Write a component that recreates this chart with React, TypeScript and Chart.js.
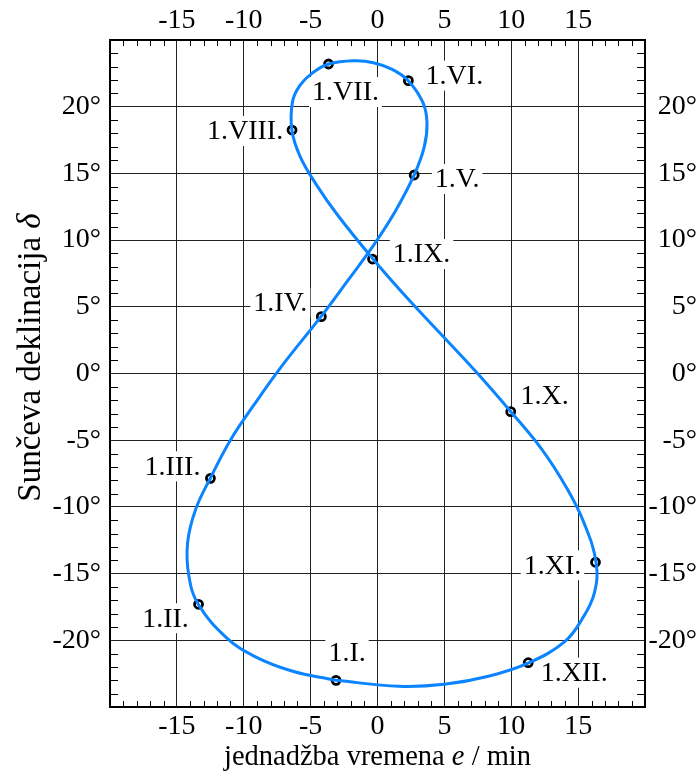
import { useEffect, useRef } from 'react';
import { Chart, registerables } from 'chart.js';

Chart.register(...registerables);

// Analemma curve (equation of time e in min, declination δ in degrees)
const curveE = [
  -3.1, -6.4, -9.2, -11.3, -13.4, -14.1, -14.2, -13.6, -12.5, -11.0, -9.2, -7.2,
  -4.2, -2.2, -0.3, 1.3, 2.75, 3.5, 3.7, 3.4, 2.3, 1.1, -0.3, -1.7,
  -3.65, -4.9, -5.8, -6.35, -6.4, -5.8, -4.6, -3.0, -0.35, 2.0, 4.7, 7.3,
  10.0, 12.3, 14.1, 15.4, 16.35, 16.2, 15.3, 14.0, 11.3, 8.3, 5.0, 1.6, -3.1,
];
const curveDelta = [
  -23.0, -22.3, -21.2, -19.8, -17.3, -15.2, -12.7, -10.2, -7.85, -5.0, -2.3, 0.5,
  4.3, 7.0, 9.6, 12.1, 14.9, 17.0, 18.8, 20.3, 21.95, 22.8, 23.3, 23.45,
  23.2, 22.5, 21.6, 20.4, 18.25, 16.3, 14.2, 11.9, 8.6, 5.9, 3.0, 0.2,
  -2.9, -5.7, -8.5, -11.1, -14.2, -16.5, -18.4, -20.1, -21.7, -22.7, -23.3, -23.45, -23.0,
];

// First-of-month markers
const monthLabels = ['1.I.', '1.II.', '1.III.', '1.IV.', '1.V.', '1.VI.', '1.VII.', '1.VIII.', '1.IX.', '1.X.', '1.XI.', '1.XII.'];
const monthE = [-3.1, -13.38, -12.49, -4.2, 2.74, 2.31, -3.66, -6.39, -0.37, 9.96, 16.3, 11.27];
const monthDelta = [-23.0, -17.3, -7.86, 4.26, 14.88, 21.95, 23.2, 18.25, 8.58, -2.86, -14.15, -21.68];

// Tick values
const xTickValues = [-15, -10, -5, 0, 5, 10, 15];
const yTickValues = [-20, -15, -10, -5, 0, 5, 10, 15, 20];

// Label placement relative to marker (pixels) – layout only
const labelOffsets: [number, number][] = [
  [11, -28], [-33, 14], [-38, -12], [-41, -14], [43, 4], [46, -5],
  [17, 28], [-47, 1], [49, -5], [34, -16], [-43, 3], [46, 10],
];

const SERIF = "'Liberation Serif', 'Times New Roman', serif";

const monthLabelPlugin = {
  id: 'monthLabels',
  beforeDatasetsDraw(chart: any) {
    const meta = chart.getDatasetMeta(1);
    const ctx = chart.ctx;
    ctx.save();
    ctx.font = `28px ${SERIF}`;
    ctx.textAlign = 'center';
    ctx.textBaseline = 'middle';
    meta.data.forEach((pt: any, i: number) => {
      const [dx, dy] = labelOffsets[i];
      const cx = pt.x + dx;
      const cy = pt.y + dy;
      const w = ctx.measureText(monthLabels[i]).width;
      ctx.fillStyle = '#ffffff';
      ctx.fillRect(cx - w / 2 - 3, cy - 15, w + 6, 30);
      ctx.fillStyle = '#000000';
      ctx.fillText(monthLabels[i], cx, cy + 1);
    });
    ctx.restore();
  },
};

const frameDecorPlugin = {
  id: 'frameDecor',
  afterDraw(chart: any) {
    const ctx = chart.ctx;
    const { left, right, top, bottom } = chart.chartArea;
    const xs = chart.scales.x;
    const ys = chart.scales.y;
    ctx.save();
    ctx.strokeStyle = '#000';
    ctx.lineWidth = 1;
    ctx.beginPath();
    for (let v = -19; v <= 19; v++) {
      if (v % 5 === 0) continue;
      const px = Math.round(xs.getPixelForValue(v)) + 0.5;
      ctx.moveTo(px, top);
      ctx.lineTo(px, top + 6);
      ctx.moveTo(px, bottom);
      ctx.lineTo(px, bottom - 6);
    }
    for (let v = -24; v <= 24; v++) {
      if (v % 5 === 0) continue;
      const py = Math.round(ys.getPixelForValue(v)) + 0.5;
      ctx.moveTo(left, py);
      ctx.lineTo(left + 8, py);
      ctx.moveTo(right, py);
      ctx.lineTo(right - 8, py);
    }
    ctx.stroke();

    // axis titles with italic symbols
    ctx.fillStyle = '#000';
    ctx.textBaseline = 'alphabetic';
    const drawMixed = (parts: [string, boolean][], size: number) => {
      let total = 0;
      parts.forEach(([t, it]) => {
        ctx.font = `${it ? 'italic ' : ''}${size}px ${SERIF}`;
        total += ctx.measureText(t).width;
      });
      let x = -total / 2;
      ctx.textAlign = 'left';
      parts.forEach(([t, it]) => {
        ctx.font = `${it ? 'italic ' : ''}${size}px ${SERIF}`;
        ctx.fillText(t, x, 0);
        x += ctx.measureText(t).width;
      });
    };
    ctx.save();
    ctx.translate((left + right) / 2, bottom + 58);
    drawMixed([['jednadžba vremena ', false], ['e', true], [' / min', false]], 28.5);
    ctx.restore();
    ctx.save();
    ctx.translate(left - 70, (top + bottom) / 2 - 16);
    ctx.rotate(-Math.PI / 2);
    drawMixed([['Sunčeva deklinacija ', false], ['δ', true]], 33);
    ctx.restore();
    ctx.restore();
  },
};

export default function App() {
  const canvasRef = useRef<HTMLCanvasElement | null>(null);

  useEffect(() => {
    document.body.style.margin = '0';
    const canvas = canvasRef.current;
    if (!canvas) return;
    const font = { family: SERIF, size: 28 };
    const xTicksFn = (s: any) => {
      s.ticks = xTickValues.map((v) => ({ value: v }));
    };
    const yTicksFn = (s: any) => {
      s.ticks = yTickValues.map((v) => ({ value: v }));
    };
    const chart = new Chart(canvas, {
      type: 'scatter',
      data: {
        datasets: [
          {
            label: 'analema',
            data: curveE.map((e, i) => ({ x: e, y: curveDelta[i] })),
            showLine: true,
            borderColor: '#0a84ff',
            borderWidth: 3,
            pointRadius: 0,
            tension: 0.4,
            fill: false,
          },
          {
            label: 'mjeseci',
            data: monthE.map((e, i) => ({ x: e, y: monthDelta[i] })),
            showLine: false,
            pointRadius: 4,
            pointBackgroundColor: '#ffffff',
            pointBorderColor: '#000000',
            pointBorderWidth: 2.8,
          },
        ],
      },
      options: {
        animation: false,
        responsive: true,
        maintainAspectRatio: false,
        layout: { padding: { left: 0, right: 3, top: 0, bottom: 0 } },
        plugins: {
          legend: { display: false },
          tooltip: { enabled: false },
        },
        scales: {
          x: {
            type: 'linear',
            position: 'bottom',
            min: -20,
            max: 20,
            afterBuildTicks: xTicksFn,
            afterFit: (s: any) => { s.height = 65; },
            ticks: { font, color: '#000', padding: 3, maxRotation: 0, autoSkip: false },
            grid: { color: '#222', lineWidth: 1, drawTicks: false },
            border: { display: true, color: '#000', width: 2 },
          },
          x2: {
            type: 'linear',
            position: 'top',
            min: -20,
            max: 20,
            afterBuildTicks: xTicksFn,
            afterFit: (s: any) => { s.height = 40; },
            ticks: { font, color: '#000', padding: 3, maxRotation: 0, autoSkip: false },
            grid: { display: false, drawTicks: false },
            border: { display: true, color: '#000', width: 2 },
          },
          y: {
            type: 'linear',
            position: 'left',
            min: -25,
            max: 25,
            afterBuildTicks: yTicksFn,
            afterFit: (s: any) => { s.width = 110; },
            ticks: { font, color: '#000', padding: 9, autoSkip: false, callback: (v: any) => `${v}°` },
            grid: { color: '#222', lineWidth: 1, drawTicks: false },
            border: { display: true, color: '#000', width: 2 },
          },
          y2: {
            type: 'linear',
            position: 'right',
            min: -25,
            max: 25,
            afterBuildTicks: yTicksFn,
            afterFit: (s: any) => { s.width = 52; },
            ticks: { font, color: '#000', padding: 9, autoSkip: false, crossAlign: 'far', callback: (v: any) => `${v}°` },
            grid: { display: false, drawTicks: false },
            border: { display: true, color: '#000', width: 2 },
          },
        },
      },
      plugins: [monthLabelPlugin, frameDecorPlugin],
    });
    return () => chart.destroy();
  }, []);

  return (
    <div style={{ position: 'relative', width: 700, height: 772 }}>
      <canvas ref={canvasRef} />
    </div>
  );
}
